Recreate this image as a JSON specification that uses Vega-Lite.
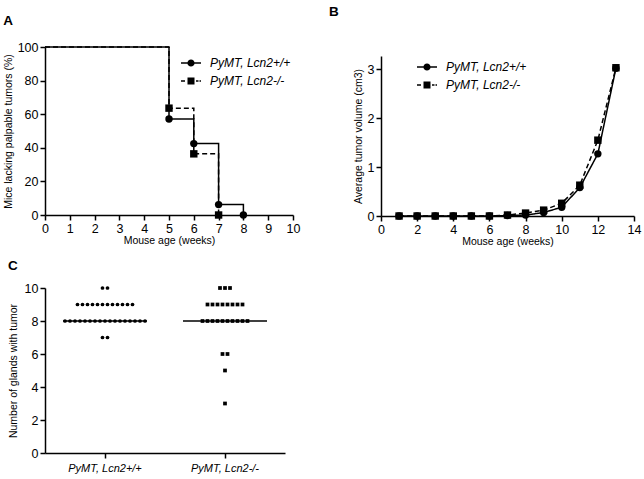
{
  "$schema": "https://vega.github.io/schema/vega-lite/v6.json",
  "padding": {"left": 3, "top": 4, "right": 4, "bottom": 2},
  "config": {
    "font": "Liberation Sans",
    "view": {"stroke": null},
    "axis": {"grid": false},
    "legend": {"labelFont": "Liberation Sans", "labelFontSize": 12, "labelFontStyle": "italic", "labelColor": "black", "rowPadding": 0, "padding": 0, "symbolSize": 400, "labelOffset": 8, "symbolOpacity": 1},
    "title": {"font": "Liberation Sans", "fontSize": 13.5, "fontWeight": "bold", "color": "black", "anchor": "start", "frame": "bounds"}
  },
  "datasets": {
    "survival": [
      {"genotype": "PyMT, Lcn2-/-", "week": 0, "pct": 100},
      {"genotype": "PyMT, Lcn2-/-", "week": 5, "pct": 63.6},
      {"genotype": "PyMT, Lcn2-/-", "week": 6, "pct": 36.4},
      {"genotype": "PyMT, Lcn2-/-", "week": 7, "pct": 0},
      {"genotype": "PyMT, Lcn2+/+", "week": 0, "pct": 100},
      {"genotype": "PyMT, Lcn2+/+", "week": 5, "pct": 57.1},
      {"genotype": "PyMT, Lcn2+/+", "week": 6, "pct": 42.5},
      {"genotype": "PyMT, Lcn2+/+", "week": 7, "pct": 6.2},
      {"genotype": "PyMT, Lcn2+/+", "week": 8, "pct": 0}
    ],
    "volume": [
      {"genotype": "PyMT, Lcn2-/-", "week": 1, "vol": 0},
      {"genotype": "PyMT, Lcn2-/-", "week": 2, "vol": 0},
      {"genotype": "PyMT, Lcn2-/-", "week": 3, "vol": 0},
      {"genotype": "PyMT, Lcn2-/-", "week": 4, "vol": 0},
      {"genotype": "PyMT, Lcn2-/-", "week": 5, "vol": 0},
      {"genotype": "PyMT, Lcn2-/-", "week": 6, "vol": 0},
      {"genotype": "PyMT, Lcn2-/-", "week": 7, "vol": 0.02},
      {"genotype": "PyMT, Lcn2-/-", "week": 8, "vol": 0.06},
      {"genotype": "PyMT, Lcn2-/-", "week": 9, "vol": 0.12},
      {"genotype": "PyMT, Lcn2-/-", "week": 10, "vol": 0.26},
      {"genotype": "PyMT, Lcn2-/-", "week": 11, "vol": 0.63},
      {"genotype": "PyMT, Lcn2-/-", "week": 12, "vol": 1.55},
      {"genotype": "PyMT, Lcn2-/-", "week": 13, "vol": 3.03},
      {"genotype": "PyMT, Lcn2+/+", "week": 1, "vol": 0},
      {"genotype": "PyMT, Lcn2+/+", "week": 2, "vol": 0},
      {"genotype": "PyMT, Lcn2+/+", "week": 3, "vol": 0},
      {"genotype": "PyMT, Lcn2+/+", "week": 4, "vol": 0},
      {"genotype": "PyMT, Lcn2+/+", "week": 5, "vol": 0},
      {"genotype": "PyMT, Lcn2+/+", "week": 6, "vol": 0},
      {"genotype": "PyMT, Lcn2+/+", "week": 7, "vol": 0.01},
      {"genotype": "PyMT, Lcn2+/+", "week": 8, "vol": 0.02},
      {"genotype": "PyMT, Lcn2+/+", "week": 9, "vol": 0.07},
      {"genotype": "PyMT, Lcn2+/+", "week": 10, "vol": 0.18},
      {"genotype": "PyMT, Lcn2+/+", "week": 11, "vol": 0.58},
      {"genotype": "PyMT, Lcn2+/+", "week": 12, "vol": 1.27},
      {"genotype": "PyMT, Lcn2+/+", "week": 13, "vol": 3.02}
    ],
    "glands": [
      {"group": "PyMT, Lcn2+/+", "glands": 10}, {"group": "PyMT, Lcn2+/+", "glands": 10},
      {"group": "PyMT, Lcn2+/+", "glands": 9}, {"group": "PyMT, Lcn2+/+", "glands": 9}, {"group": "PyMT, Lcn2+/+", "glands": 9}, {"group": "PyMT, Lcn2+/+", "glands": 9},
      {"group": "PyMT, Lcn2+/+", "glands": 9}, {"group": "PyMT, Lcn2+/+", "glands": 9}, {"group": "PyMT, Lcn2+/+", "glands": 9}, {"group": "PyMT, Lcn2+/+", "glands": 9},
      {"group": "PyMT, Lcn2+/+", "glands": 9}, {"group": "PyMT, Lcn2+/+", "glands": 9}, {"group": "PyMT, Lcn2+/+", "glands": 9}, {"group": "PyMT, Lcn2+/+", "glands": 9},
      {"group": "PyMT, Lcn2+/+", "glands": 8}, {"group": "PyMT, Lcn2+/+", "glands": 8}, {"group": "PyMT, Lcn2+/+", "glands": 8}, {"group": "PyMT, Lcn2+/+", "glands": 8},
      {"group": "PyMT, Lcn2+/+", "glands": 8}, {"group": "PyMT, Lcn2+/+", "glands": 8}, {"group": "PyMT, Lcn2+/+", "glands": 8}, {"group": "PyMT, Lcn2+/+", "glands": 8},
      {"group": "PyMT, Lcn2+/+", "glands": 8}, {"group": "PyMT, Lcn2+/+", "glands": 8}, {"group": "PyMT, Lcn2+/+", "glands": 8}, {"group": "PyMT, Lcn2+/+", "glands": 8},
      {"group": "PyMT, Lcn2+/+", "glands": 8}, {"group": "PyMT, Lcn2+/+", "glands": 8}, {"group": "PyMT, Lcn2+/+", "glands": 8}, {"group": "PyMT, Lcn2+/+", "glands": 8},
      {"group": "PyMT, Lcn2+/+", "glands": 8},
      {"group": "PyMT, Lcn2+/+", "glands": 7}, {"group": "PyMT, Lcn2+/+", "glands": 7},
      {"group": "PyMT, Lcn2-/-", "glands": 10}, {"group": "PyMT, Lcn2-/-", "glands": 10}, {"group": "PyMT, Lcn2-/-", "glands": 10},
      {"group": "PyMT, Lcn2-/-", "glands": 9}, {"group": "PyMT, Lcn2-/-", "glands": 9}, {"group": "PyMT, Lcn2-/-", "glands": 9}, {"group": "PyMT, Lcn2-/-", "glands": 9},
      {"group": "PyMT, Lcn2-/-", "glands": 9}, {"group": "PyMT, Lcn2-/-", "glands": 9}, {"group": "PyMT, Lcn2-/-", "glands": 9}, {"group": "PyMT, Lcn2-/-", "glands": 9},
      {"group": "PyMT, Lcn2-/-", "glands": 8}, {"group": "PyMT, Lcn2-/-", "glands": 8}, {"group": "PyMT, Lcn2-/-", "glands": 8}, {"group": "PyMT, Lcn2-/-", "glands": 8},
      {"group": "PyMT, Lcn2-/-", "glands": 8}, {"group": "PyMT, Lcn2-/-", "glands": 8}, {"group": "PyMT, Lcn2-/-", "glands": 8}, {"group": "PyMT, Lcn2-/-", "glands": 8},
      {"group": "PyMT, Lcn2-/-", "glands": 8}, {"group": "PyMT, Lcn2-/-", "glands": 8},
      {"group": "PyMT, Lcn2-/-", "glands": 6}, {"group": "PyMT, Lcn2-/-", "glands": 6},
      {"group": "PyMT, Lcn2-/-", "glands": 5},
      {"group": "PyMT, Lcn2-/-", "glands": 3}
    ]
  },
  "vconcat": [
    {
      "hconcat": [
        {
          "width": 248, "height": 168,
          "title": {"text": "A", "offset": 14},
          "data": {"name": "survival"},
          "encoding": {
            "x": {"field": "week", "type": "quantitative", "scale": {"domain": [0, 10], "nice": false},
              "axis": {"values": [0,1,2,3,4,5,6,7,8,9,10], "title": "Mouse age (weeks)", "titlePadding": 1,
                "labelFontSize": 12.5, "labelFont": "Liberation Sans", "labelOverlap": false, "labelFlush": false, "labelBound": false, "labelColor": "black", "labelPadding": 2,
                "domainColor": "black", "domainWidth": 1.5, "tickColor": "black", "tickWidth": 1.5, "tickSize": 5,
                "titleFont": "Liberation Sans", "titleFontSize": 10.5, "titleFontWeight": "normal", "titleColor": "black", "grid": false}},
            "y": {"field": "pct", "type": "quantitative", "scale": {"domain": [0, 100], "nice": false},
              "axis": {"values": [0,20,40,60,80,100], "title": "Mice lacking palpable tumors (%)", "titlePadding": 4,
                "labelFontSize": 12.5, "labelFont": "Liberation Sans", "labelOverlap": false, "labelFlush": false, "labelBound": false, "labelColor": "black", "labelPadding": 2,
                "domainColor": "black", "domainWidth": 1.5, "tickColor": "black", "tickWidth": 1.5, "tickSize": 5,
                "titleFont": "Liberation Sans", "titleFontSize": 10.5, "titleFontWeight": "normal", "titleColor": "black", "grid": false}}
          },
          "layer": [
            {
              "mark": {"type": "line", "interpolate": "step-after", "color": "black", "strokeWidth": 1.5},
              "encoding": {
                "strokeDash": {"field": "genotype", "type": "nominal", "scale": {"domain": ["PyMT, Lcn2+/+", "PyMT, Lcn2-/-"], "range": [[1, 0], [5, 3]]}, "legend": null}
              }
            },
            {
              "transform": [{"filter": "datum.week > 0"}],
              "mark": {"type": "point", "filled": true, "color": "black", "opacity": 1, "size": 55},
              "encoding": {
                "shape": {"field": "genotype", "type": "nominal", "scale": {"domain": ["PyMT, Lcn2+/+", "PyMT, Lcn2-/-"], "range": ["circle", "square"]}, "legend": null}
              }
            },
            {
              "mark": {"type": "point", "filled": true, "color": "black", "opacity": 0},
              "encoding": {
                "shape": {"field": "genotype", "type": "nominal",
                  "scale": {"domain": ["PyMT, Lcn2+/+", "PyMT, Lcn2-/-"], "range": [
                    "M-1,-0.08L-0.3,-0.08L-0.3,0.08L-1,0.08Z M0.3,-0.08L1,-0.08L1,0.08L0.3,0.08Z M-0.36,0A0.36,0.36 0 1,1 0.36,0A0.36,0.36 0 1,1 -0.36,0Z",
                    "M-1,-0.08L-0.6,-0.08L-0.6,0.08L-1,0.08Z M0.5,-0.08L0.75,-0.08L0.75,0.08L0.5,0.08Z M0.85,-0.08L1,-0.08L1,0.08L0.85,0.08Z M-0.35,-0.35L0.35,-0.35L0.35,0.35L-0.35,0.35Z"
                  ]},
                  "legend": {"title": null, "orient": "none", "legendX": 135, "legendY": 5}
                }
              }
            }
          ],
          "resolve": {"scale": {"shape": "independent"}}
        },
        {
          "width": 253, "height": 169,
          "title": {"text": "B", "offset": 29, "dx": -24},
          "data": {"name": "volume"},
          "encoding": {
            "x": {"field": "week", "type": "quantitative", "scale": {"domain": [0, 14], "nice": false},
              "axis": {"values": [0,2,4,6,8,10,12,14], "title": "Mouse age (weeks)", "titlePadding": 1,
                "labelFontSize": 12.5, "labelFont": "Liberation Sans", "labelOverlap": false, "labelFlush": false, "labelBound": false, "labelColor": "black", "labelPadding": 2,
                "domainColor": "black", "domainWidth": 1.5, "tickColor": "black", "tickWidth": 1.5, "tickSize": 5,
                "titleFont": "Liberation Sans", "titleFontSize": 10.5, "titleFontWeight": "normal", "titleColor": "black", "grid": false}},
            "y": {"field": "vol", "type": "quantitative", "scale": {"domain": [0, 3.27], "nice": false, "range": [169, 9]},
              "axis": {"values": [0,1,2,3], "title": "Average tumor volume (cm3)", "titlePadding": 4,
                "labelFontSize": 12.5, "labelFont": "Liberation Sans", "labelOverlap": false, "labelFlush": false, "labelBound": false, "labelColor": "black", "labelPadding": 2,
                "domainColor": "black", "domainWidth": 1.5, "tickColor": "black", "tickWidth": 1.5, "tickSize": 5,
                "titleFont": "Liberation Sans", "titleFontSize": 10.5, "titleFontWeight": "normal", "titleColor": "black", "grid": false}}
          },
          "layer": [
            {
              "mark": {"type": "line", "color": "black", "strokeWidth": 1.5},
              "encoding": {
                "strokeDash": {"field": "genotype", "type": "nominal", "scale": {"domain": ["PyMT, Lcn2+/+", "PyMT, Lcn2-/-"], "range": [[1, 0], [5, 3]]}, "legend": null}
              }
            },
            {
              "mark": {"type": "point", "filled": true, "color": "black", "opacity": 1, "size": 55},
              "encoding": {
                "shape": {"field": "genotype", "type": "nominal", "scale": {"domain": ["PyMT, Lcn2+/+", "PyMT, Lcn2-/-"], "range": ["circle", "square"]}, "legend": null}
              }
            },
            {
              "mark": {"type": "point", "filled": true, "color": "black", "opacity": 0},
              "encoding": {
                "shape": {"field": "genotype", "type": "nominal",
                  "scale": {"domain": ["PyMT, Lcn2+/+", "PyMT, Lcn2-/-"], "range": [
                    "M-1,-0.08L-0.3,-0.08L-0.3,0.08L-1,0.08Z M0.3,-0.08L1,-0.08L1,0.08L0.3,0.08Z M-0.36,0A0.36,0.36 0 1,1 0.36,0A0.36,0.36 0 1,1 -0.36,0Z",
                    "M-1,-0.08L-0.6,-0.08L-0.6,0.08L-1,0.08Z M0.5,-0.08L0.75,-0.08L0.75,0.08L0.5,0.08Z M0.85,-0.08L1,-0.08L1,0.08L0.85,0.08Z M-0.35,-0.35L0.35,-0.35L0.35,0.35L-0.35,0.35Z"
                  ]},
                  "legend": {"title": null, "orient": "none", "legendX": 35, "legendY": 9}
                }
              }
            }
          ],
          "resolve": {"scale": {"shape": "independent"}}
        }
      ],
      "spacing": 29
    },
    {
      "width": 240, "height": 165,
      "title": {"text": "C", "offset": 10},
      "data": {"name": "glands"},
      "encoding": {
        "x": {"field": "group", "type": "nominal", "sort": ["PyMT, Lcn2+/+", "PyMT, Lcn2-/-"], "scale": {"paddingInner": 0, "paddingOuter": 0},
          "axis": {"title": null, "labelAngle": 0, "labelFontStyle": "italic", "labelFontSize": 11, "labelFont": "Liberation Sans", "labelPadding": 4, "labelColor": "black",
            "domainColor": "black", "domainWidth": 1.5, "tickColor": "black", "tickWidth": 1.5, "tickSize": 5, "grid": false}}
      },
      "layer": [
        {
          "transform": [
            {"window": [{"op": "row_number", "as": "idx"}], "groupby": ["group", "glands"]},
            {"joinaggregate": [{"op": "count", "as": "n"}], "groupby": ["group", "glands"]},
            {"calculate": "datum.idx - (datum.n + 1) / 2", "as": "off"}
          ],
          "mark": {"type": "point", "filled": true, "color": "black", "opacity": 1, "size": 14},
          "encoding": {
            "xOffset": {"field": "off", "type": "quantitative", "scale": {"domain": [-12, 12]}},
            "y": {"field": "glands", "type": "quantitative", "scale": {"domain": [0, 10], "nice": false},
              "axis": {"values": [0,2,4,6,8,10], "title": "Number of glands with tumor", "titlePadding": 6,
                "labelFontSize": 12.5, "labelFont": "Liberation Sans", "labelOverlap": false, "labelFlush": false, "labelBound": false, "labelColor": "black", "labelPadding": 2,
                "domainColor": "black", "domainWidth": 1.5, "tickColor": "black", "tickWidth": 1.5, "tickSize": 5,
                "titleFont": "Liberation Sans", "titleFontSize": 10.5, "titleFontWeight": "normal", "titleColor": "black", "grid": false}},
            "shape": {"field": "group", "type": "nominal", "scale": {"domain": ["PyMT, Lcn2+/+", "PyMT, Lcn2-/-"], "range": ["circle", "square"]}, "legend": null}
          }
        },
        {
          "mark": {"type": "tick", "orient": "horizontal", "size": 84, "thickness": 1.5, "color": "black", "opacity": 1},
          "encoding": {
            "y": {"aggregate": "median", "field": "glands", "type": "quantitative",
              "axis": {"values": [0,2,4,6,8,10], "title": "Number of glands with tumor", "titlePadding": 6,
                "labelFontSize": 12.5, "labelFont": "Liberation Sans", "labelOverlap": false, "labelFlush": false, "labelBound": false, "labelColor": "black", "labelPadding": 2,
                "domainColor": "black", "domainWidth": 1.5, "tickColor": "black", "tickWidth": 1.5, "tickSize": 5,
                "titleFont": "Liberation Sans", "titleFontSize": 10.5, "titleFontWeight": "normal", "titleColor": "black", "grid": false}}
          }
        }
      ]
    }
  ],
  "spacing": 11
}
